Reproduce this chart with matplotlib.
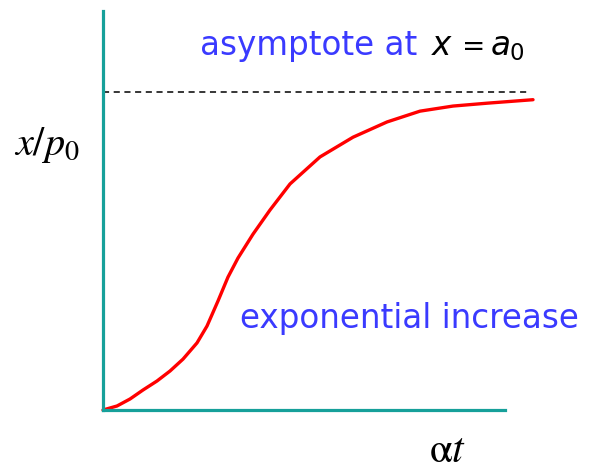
import numpy as np
import matplotlib
matplotlib.use('Agg')
import matplotlib.pyplot as plt

# curve (alpha*t, x/p0 ; asymptote at 1)
at = [0, 0.348, 0.672, 0.995, 1.343, 1.667, 1.990, 2.338, 2.587, 2.861, 3.109,
      3.358, 3.731, 4.154, 4.652, 5.398, 6.219, 7.065, 7.886, 8.706, 9.552, 10.697]
xp = [0, 0.0126, 0.0346, 0.0629, 0.0912, 0.1226, 0.160, 0.211, 0.264, 0.343, 0.418,
      0.478, 0.553, 0.629, 0.711, 0.796, 0.858, 0.906, 0.940, 0.956, 0.965, 0.976]
asym_t = [0, 10.62]
asym_y = [1.0, 1.0]

W, H = 591, 470
fig = plt.figure(figsize=(W/100, H/100), dpi=100)
ax = fig.add_axes([103/W, (H-410)/H, (505-103)/W, (410-11)/H])
ax.set_xlim(0, 10)
ax.set_ylim(0, 1.255)

teal = '#16a09a'
for s in ['top', 'right']:
    ax.spines[s].set_visible(False)
for s in ['left', 'bottom']:
    ax.spines[s].set_color(teal)
    ax.spines[s].set_linewidth(2.3)
ax.set_xticks([])
ax.set_yticks([])
ax.patch.set_alpha(0)

ax.plot(asym_t, asym_y, color='black', lw=1.1, ls=(0, (4, 3)), clip_on=False)
ax.plot(at, xp, color='#ff0000', lw=2.4, clip_on=False,
        solid_capstyle='round', solid_joinstyle='round')

blue = '#3a3aff'
def ftxt(px, py, s, **kw):
    fig.text(px/W, 1-py/H, s, va='baseline', **kw)

ftxt(200, 55, 'asymptote at', color=blue, fontsize=23.5, family='DejaVu Sans')
ftxt(431, 55, r'$x$', color='black', fontsize=23.5, family='DejaVu Sans')
ftxt(462, 55, '=', color='black', fontsize=20, family='DejaVu Sans')
ftxt(490, 55, r'$a_0$', color='black', fontsize=23.5, family='DejaVu Sans')
ftxt(240, 328, 'exponential increase', color=blue, fontsize=23.5, family='DejaVu Sans')

plt.rcParams['mathtext.fontset'] = 'stix'
ftxt(14, 155, r'$x/p_0$', fontsize=29)
ftxt(429, 462, r'$\mathrm{\alpha}t$', fontsize=30)

fig.savefig('out.png', dpi=100)
